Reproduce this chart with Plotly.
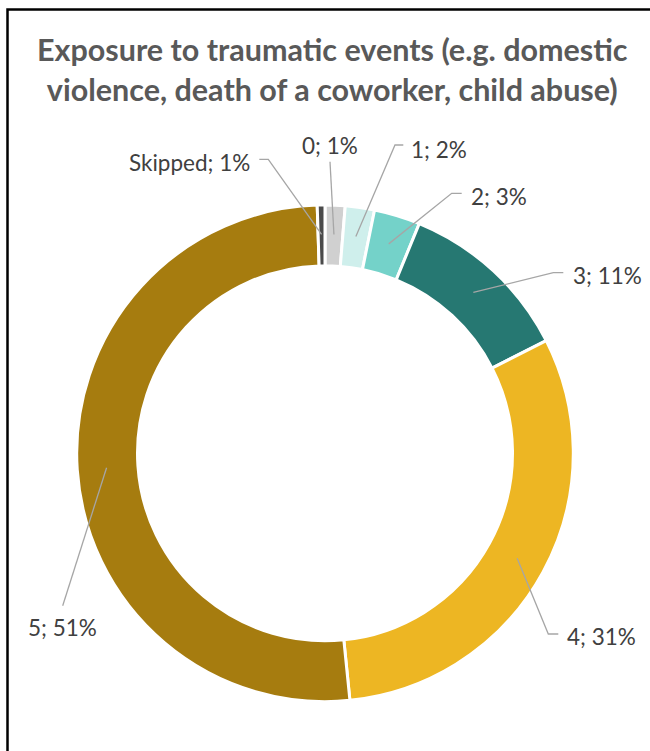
import math
import plotly.graph_objects as go

# ---- data ----
categories = ["0", "1", "2", "3", "4", "5", "Skipped"]
shares = [1.3, 1.9, 3.0, 11.3, 30.9, 51.1, 0.5]          # percent of respondents
label_pct = ["1%", "2%", "3%", "11%", "31%", "51%", "1%"]  # labels as printed
colors = ["#D0D0D0", "#CFEFEC", "#74D2C9", "#267872", "#EDB623", "#A67C0F", "#4A4A4A"]

title_text = "Exposure to traumatic events (e.g. domestic<br>violence, death of a coworker, child abuse)"

# ---- layout geometry (pixels) ----
W, H = 650, 751
CX, CY, R_OUT, R_IN = 325.0, 453.3, 248.3, 187.5
HOLE = R_IN / R_OUT
R_MID = (R_OUT + R_IN) / 2 + 1

def px(x):
    return x / W

def py(y):
    return 1 - y / H

# label text placement and leader start/elbow (pixels)
label_layout = {
    "Skipped": dict(x=252.0, y=162, xanchor="right", path=[(259.3, 159.3), (268.3, 159.3)]),
    "0": dict(x=329.5, y=145, xanchor="center", path=[(330.0, 161.7)]),
    "1": dict(x=409.3, y=149.5, xanchor="left", path=[(403.3, 145.0), (395.0, 145.0)]),
    "2": dict(x=469.3, y=196.5, xanchor="left", path=[(461.7, 193.3), (451.7, 193.3)]),
    "3": dict(x=570.7, y=275.3, xanchor="left", path=[(563.3, 272.7), (553.3, 272.7)]),
    "4": dict(x=565.0, y=636.7, xanchor="left", path=[(558.3, 634.0), (548.3, 634.0)]),
    "5": dict(x=63.0, y=627.7, xanchor="center", path=[(62.7, 605.7)]),
}

fig = go.Figure()
fig.add_trace(go.Pie(
    labels=categories,
    values=shares,
    hole=HOLE,
    sort=False,
    direction="clockwise",
    rotation=0,
    marker=dict(colors=colors, line=dict(color="white", width=3)),
    textinfo="none",
    hoverinfo="label+percent",
    showlegend=False,
    domain=dict(x=[px(CX - R_OUT), px(CX + R_OUT)], y=[py(CY + R_OUT), py(CY - R_OUT)]),
))

# compute slice mid-angles from data
total = sum(shares)
cum = 0.0
shapes = []
annotations = []
for cat, val, pct in zip(categories, shares, label_pct):
    mid = (cum + val / 2) / total * 360.0
    cum += val
    ax = CX + R_MID * math.sin(math.radians(mid))
    ay = CY - R_MID * math.cos(math.radians(mid))
    lay = label_layout[cat]
    pts = lay["path"] + [(ax, ay)]
    path = "M " + " L ".join(f"{px(x):.5f},{py(y):.5f}" for x, y in pts)
    shapes.append(dict(type="path", xref="paper", yref="paper", path=path,
                       line=dict(color="#A6A6A6", width=1.3)))
    annotations.append(dict(
        x=px(lay["x"]), y=py(lay["y"]), xref="paper", yref="paper",
        xanchor=lay["xanchor"], yanchor="middle", showarrow=False,
        text=f"{cat}; {pct}",
        font=dict(family="Lato", size=22.5, color="#404040"),
    ))

annotations.append(dict(
    x=px(332), y=py(69), xref="paper", yref="paper",
    xanchor="center", yanchor="middle", showarrow=False,
    text=f"<b>{title_text}</b>",
    font=dict(family="Lato", size=30.5, color="#595959"),
))

# outer chart frame
shapes.append(dict(type="rect", xref="paper", yref="paper",
                   x0=px(7.5), y0=py(9.5), x1=1.1, y1=-0.1,
                   line=dict(color="black", width=2.5), fillcolor="rgba(0,0,0,0)"))

fig.update_layout(
    width=W, height=H,
    margin=dict(l=0, r=0, t=0, b=0),
    paper_bgcolor="white",
    plot_bgcolor="white",
    shapes=shapes,
    annotations=annotations,
)

fig.write_html("out.html")
